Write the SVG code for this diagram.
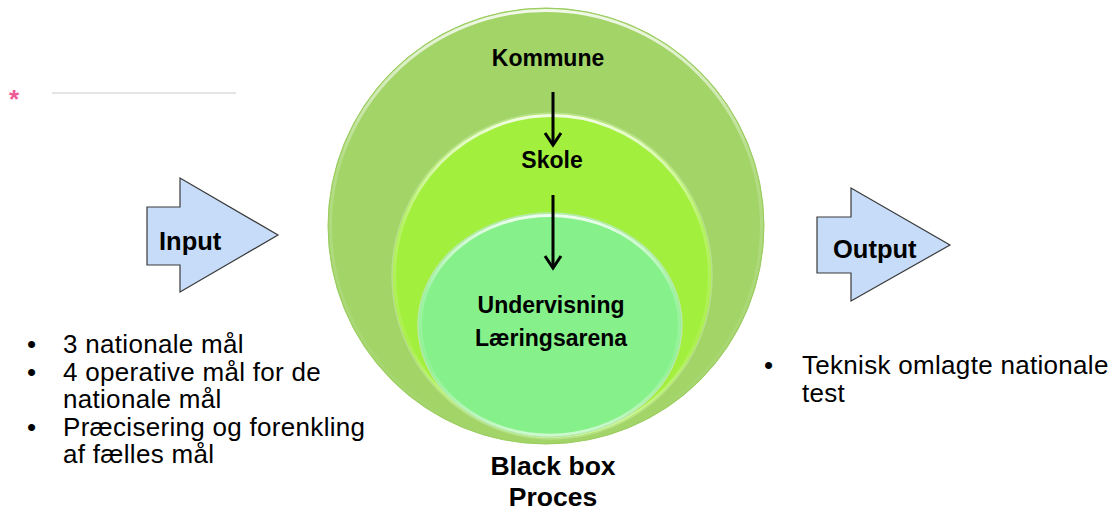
<svg xmlns="http://www.w3.org/2000/svg" width="1110" height="510" viewBox="0 0 1110 510">
<style>
.t{font-family:"Liberation Sans",Arial,sans-serif;fill:#000}
.bul{font-size:26px;letter-spacing:0.3px}
.lbl{font-size:23px;font-weight:bold;text-anchor:middle}
.big{font-size:25.5px;font-weight:bold}
.arr{fill:#c6dcf8;stroke:#3a3a3a;stroke-width:1.2}
.conn{stroke:#000;stroke-width:3;fill:none;stroke-linecap:butt}
</style>
<defs>
<linearGradient id="rim" x1="0" y1="0" x2="0" y2="1">
<stop offset="0" stop-color="#ffffff" stop-opacity="0.85"/>
<stop offset="0.35" stop-color="#ffffff" stop-opacity="0.2"/>
<stop offset="1" stop-color="#ffffff" stop-opacity="0"/>
</linearGradient>
<linearGradient id="rimb" x1="0" y1="0" x2="0" y2="1">
<stop offset="0" stop-color="#ffffff" stop-opacity="0"/>
<stop offset="0.7" stop-color="#ffffff" stop-opacity="0"/>
<stop offset="1" stop-color="#ffffff" stop-opacity="0.6"/>
</linearGradient>
</defs>
<rect width="1110" height="510" fill="#ffffff"/>
<g id="decor">
<text class="t" x="9" y="108" style="font-size:26px;font-weight:bold;fill:#ee5a96">*</text>
<line x1="52" y1="93" x2="236" y2="93" stroke="#dcdcdc" stroke-width="1.5"/>
</g>
<g id="kommune">
<circle cx="546" cy="226" r="218" fill="#a2d468" stroke="#98cc5c" stroke-width="1"/>
<circle cx="546" cy="226" r="215.5" fill="none" stroke="url(#rim)" stroke-width="3"/>
<text class="t lbl" x="548" y="66">Kommune</text>
</g>
<g id="skole">
<ellipse cx="552" cy="276" rx="160" ry="163" fill="#a3ef3d" stroke="#b8e08a" stroke-width="1.5"/>
<ellipse cx="552" cy="276" rx="157.5" ry="160.5" fill="none" stroke="url(#rim)" stroke-width="3"/>
<ellipse cx="552" cy="276" rx="158" ry="161" fill="none" stroke="url(#rimb)" stroke-width="2"/>
<text class="t lbl" x="552" y="168">Skole</text>
</g>
<g id="undervisning">
<ellipse cx="550" cy="325" rx="132" ry="112" fill="#86f18b" stroke="#b9e9a8" stroke-width="1.5"/>
<ellipse cx="550" cy="325" rx="129.5" ry="109.5" fill="none" stroke="url(#rim)" stroke-width="3"/>
<ellipse cx="550" cy="325" rx="130" ry="110" fill="none" stroke="url(#rimb)" stroke-width="2.5"/>
<text class="t lbl" x="551" y="313">Undervisning</text>
<text class="t lbl" x="551" y="346">Læringsarena</text>
</g>
<g id="connectors">
<line class="conn" x1="553" y1="92" x2="553" y2="144"/>
<polyline class="conn" points="545,133 553,145 561,133"/>
<line class="conn" x1="553" y1="195" x2="553" y2="267"/>
<polyline class="conn" points="545,256 553,268 561,256"/>
</g>
<g id="blackbox">
<text class="t big" text-anchor="middle" style="font-size:26.5px"><tspan x="553" y="475">Black box</tspan><tspan x="553" y="506">Proces</tspan></text>
</g>
<g id="input">
<polygon class="arr" points="147,207 180,207 180,178 278,235 180,292 180,265 147,265"/>
<text class="t big" x="159" y="250">Input</text>
</g>
<g id="output">
<polygon class="arr" points="817,217 851,217 851,188 950,245 851,301 851,273 817,273"/>
<text class="t big" x="833" y="258">Output</text>
</g>
<g id="input-list">
<text class="t bul"><tspan x="27" y="353">•</tspan><tspan x="63" y="353">3 nationale mål</tspan><tspan x="27" y="380.5">•</tspan><tspan x="63" y="380.5">4 operative mål for de</tspan><tspan x="63" y="408">nationale mål</tspan><tspan x="27" y="435.5">•</tspan><tspan x="63" y="435.5">Præcisering og forenkling</tspan><tspan x="63" y="463">af fælles mål</tspan></text>
</g>
<g id="output-list">
<text class="t bul"><tspan x="764" y="374">•</tspan><tspan x="802" y="374">Teknisk omlagte nationale</tspan><tspan x="802" y="402">test</tspan></text>
</g>
</svg>
